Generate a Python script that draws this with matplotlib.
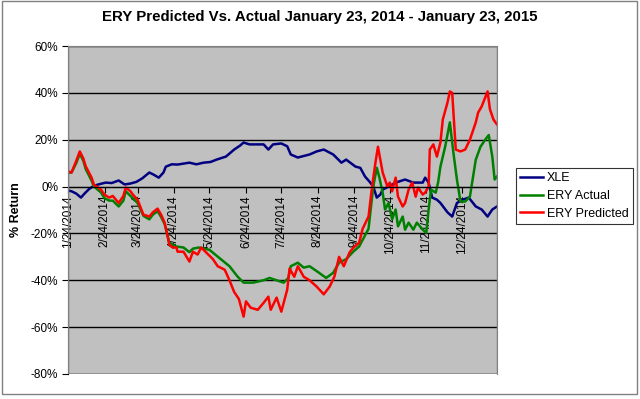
import matplotlib
matplotlib.use('Agg')
import matplotlib.pyplot as plt
import matplotlib.dates as mdates
import matplotlib.patches as patches
import numpy as np
import pandas as pd

# days after 1/24/2014 and % return
xle_days = [0, 3, 7, 11, 14, 18, 21, 25, 32, 37, 43, 48, 53, 58, 63, 69, 73, 77, 81, 83,
            88, 93, 103, 109, 115, 121, 126, 134, 141, 146, 149, 154, 160, 166, 170, 174,
            181, 186, 189, 195, 205, 211, 217, 225, 232, 236, 244, 248, 252, 256, 259, 262,
            265, 267, 272, 278, 286, 293, 301, 303, 306, 309, 313, 316, 322, 326, 330, 335,
            340, 346, 351, 356, 360, 364]
xle_ret = [-1.7, -2, -3, -4.7, -3, -1, 0, 0.8, 1.7, 1.5, 2.6, 0.9, 1.3, 2, 3.5, 6, 5, 3.8, 6, 8.5,
           9.5, 9.4, 10.2, 9.5, 10.2, 10.5, 11.5, 12.8, 15.8, 17.5, 18.8, 18, 18, 18, 15.8, 18,
           18.4, 17.2, 13.7, 12.4, 13.7, 15, 15.8, 13.7, 10.2, 11.5, 8.5, 8, 4.3, 2, 0, -4.7,
           -3.4, -1.3, 0, 1.7, 3, 1.7, 1.7, 3.8, 1.7, -4.7, -5.6, -7, -11, -12.8, -7, -5.6,
           -4.7, -8.5, -9.8, -12.8, -9.8, -8.5]

actual_days = [0, 3, 7, 10, 13, 15, 20, 22, 28, 31, 35, 38, 43, 47, 49, 53, 55, 59, 64, 69,
               72, 76, 79, 82, 86, 92, 98, 103, 106, 111, 120, 128, 137, 144, 149, 157, 166,
               171, 177, 183, 187, 189, 195, 200, 205, 213, 219, 225, 230, 236, 242, 247, 255,
               259, 262, 264, 267, 269, 272, 275, 278, 280, 284, 286, 289, 293, 296, 301, 304,
               306, 308, 312, 314, 316, 320, 324, 327, 330, 333, 337, 341, 346, 350, 354, 357,
               360, 362, 364]
actual_ret = [6, 6, 10, 14, 11, 7.5, 2.5, 0, -2.5, -5, -6, -6, -8.5, -6, -2, -4, -5, -7, -12.5, -14,
              -12, -10.5, -13, -16, -24, -25.6, -26, -28, -26.5, -26, -27, -30.3, -34, -38.5, -41,
              -41, -40, -39, -40, -41, -39, -34, -32.5, -34.6, -34, -36.8, -39, -36.8, -32.5, -31,
              -27.8, -25.6, -18, 0, 8, 4.3, -2.6, -9.8, -7, -14, -9.8, -17, -12.8, -18.4, -15.4,
              -18.4, -15.4, -18.4, -19.7, -9.8, -1.3, -2.6, 1.7, 8.5, 17, 27.4, 14.5, 3, -6.4,
              -6.4, -4.3, 11.5, 17, 20, 22, 12.8, 3, 4.3]

pred_days = [0, 3, 7, 10, 13, 15, 20, 22, 28, 31, 35, 38, 43, 47, 49, 53, 55, 59, 64, 69,
             72, 76, 79, 82, 86, 89, 92, 93, 98, 103, 106, 110, 113, 117, 123, 127, 133, 137,
             141, 145, 149, 151, 155, 161, 166, 170, 172, 177, 181, 186, 188, 192, 195, 200,
             205, 211, 217, 222, 226, 230, 234, 239, 243, 247, 250, 255, 258, 261, 263, 265,
             267, 271, 273, 275, 278, 280, 284, 286, 289, 292, 295, 297, 301, 303, 306, 307,
             310, 313, 316, 318, 322, 324, 326, 329, 333, 337, 341, 346, 348, 351, 356, 358,
             361, 364]
pred_ret = [6.5, 6, 11, 15, 12, 8.7, 3.8, 0.8, -1.3, -3.5, -4.7, -4, -7, -4, -0.4, -2, -3.4, -5.6,
            -12, -12.8, -11, -9.4, -12, -15.4, -24.8, -26, -26, -27.8, -27.8, -32, -27.8, -29, -26,
            -28, -31, -34, -35.5, -40, -45, -48, -55.5, -49, -51.7, -52.6, -49.6, -47, -52.6,
            -47.4, -53.4, -44, -35, -38.5, -34, -38.5, -40, -42.7, -46, -42.7, -38.5, -30, -34,
            -28, -25.6, -24, -18, -12.8, 0, 10.7, 17, 11.5, 6, 0, 1.7, -2, 3.8, -4.3, -8.5, -7,
            -1.3, 1.7, -4.3, -0.4, -3.4, -2.6, 0, 15.8, 18, 12.8, 18.8, 28.6, 35.9, 40.6, 40,
            15.8, 15, 15.8, 20, 27.4, 31.6, 34.2, 40.6, 33, 28.6, 26.5]

start = pd.Timestamp('2014-01-24')
end = pd.Timestamp('2015-01-23')


def to_dates(days):
    return start + pd.to_timedelta(days, unit='D')


plt.rcParams['font.family'] = ['Liberation Sans', 'DejaVu Sans']

fig = plt.figure(figsize=(6.4, 3.99), dpi=100)
ax = fig.add_axes([68 / 640, 25 / 399, 429 / 640, 328 / 399])
ax.set_facecolor('#C0C0C0')

ax.plot(to_dates(xle_days), xle_ret, color='#000080', lw=1.8, label='XLE')
ax.plot(to_dates(actual_days), actual_ret, color='#008000', lw=1.8, label='ERY Actual')
ax.plot(to_dates(pred_days), pred_ret, color='#FF0000', lw=1.8, label='ERY Predicted')

ax.set_xlim(start, end)
ax.set_ylim(-80, 60)
ax.set_yticks(np.arange(-80, 61, 20))
ax.yaxis.set_major_formatter(plt.FuncFormatter(lambda v, p: f'{int(v)}%'))
ax.grid(axis='y', color='black', lw=1)
ax.set_axisbelow(True)

# date axis crossing at zero
ax.spines['bottom'].set_position(('data', 0))
ax.spines['top'].set_color('#808080')
ax.spines['right'].set_color('#808080')
ax.add_patch(patches.Rectangle((0, 0), 1, 1, transform=ax.transAxes, fill=False,
                               edgecolor='#808080', lw=1, zorder=5))
ax.xaxis.set_major_locator(mdates.MonthLocator(bymonthday=24))
ax.xaxis.set_major_formatter(plt.FuncFormatter(
    lambda v, p: (lambda d: f'{d.month}/{d.day}/{d.year}')(mdates.num2date(v))))
ax.tick_params(axis='x', direction='out', length=4, pad=2, labelsize=8.5, rotation=90)
ax.tick_params(axis='y', direction='out', length=4, pad=3, labelsize=8.5)
for lbl in ax.get_xticklabels():
    lbl.set_va('top')

ax.set_ylabel('% Return', fontsize=9, fontweight='bold', labelpad=6)
fig.text(0.5, 1 - 17 / 399, 'ERY Predicted Vs. Actual January 23, 2014 - January 23, 2015',
         ha='center', va='center', fontsize=10.8, fontweight='bold')

leg = ax.legend(loc='center left', bbox_to_anchor=(516 / 640, 1 - 196 / 399),
                bbox_transform=fig.transFigure, fontsize=9, frameon=True, fancybox=False,
                edgecolor='black', handlelength=1.8, handletextpad=0.3,
                borderpad=0.35, labelspacing=0.45, borderaxespad=0)
leg.get_frame().set_linewidth(0.8)

fig.patches.append(patches.Rectangle((2 / 640, 5 / 399), 635 / 640, 393 / 399,
                                     transform=fig.transFigure, fill=False,
                                     edgecolor='#808080', lw=1))

plt.savefig('out.png', dpi=100)
